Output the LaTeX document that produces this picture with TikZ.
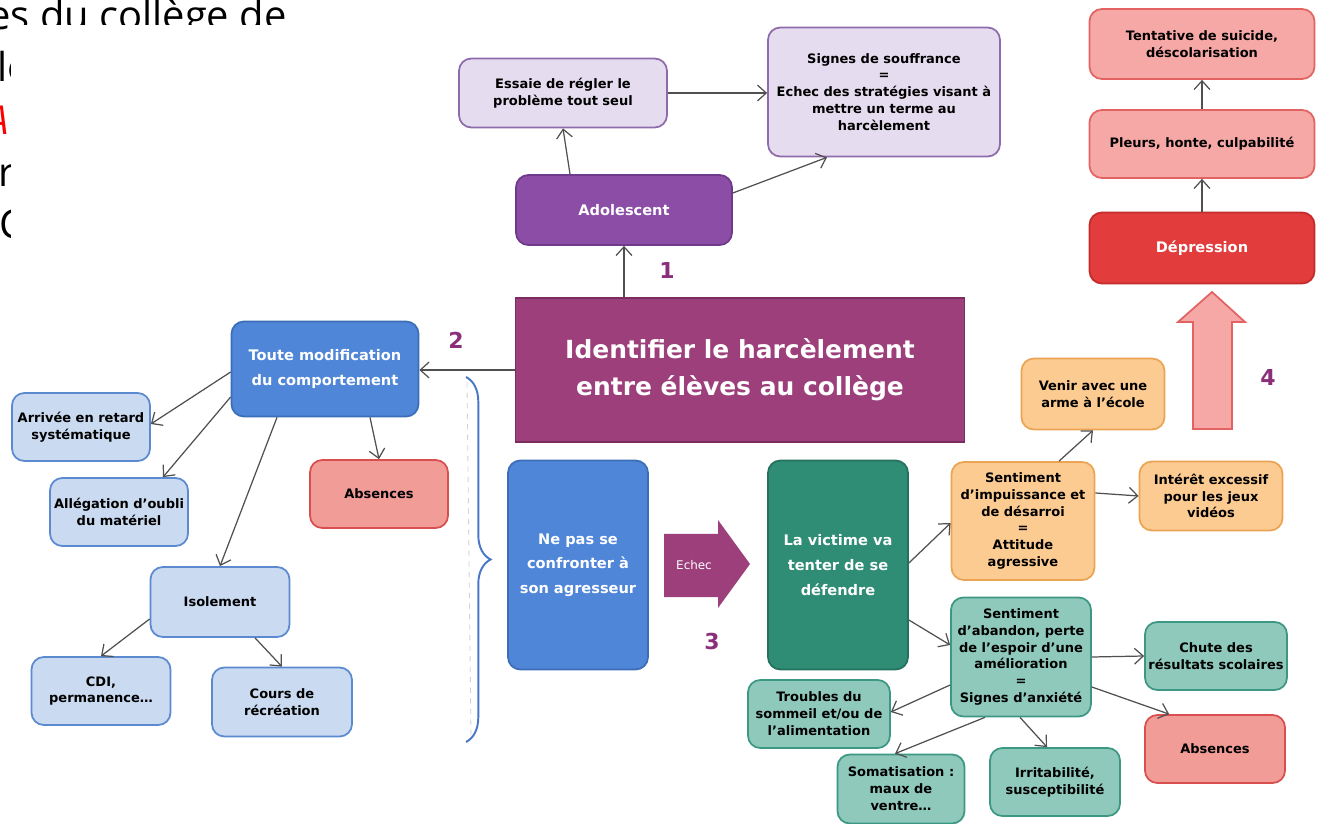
\documentclass[tikz,border=0pt]{standalone}
\usepackage{fontspec}
\setmainfont{DejaVu Sans}
\newfontfamily\fondpage{Open Sans}
\usetikzlibrary{arrows.meta,calc,decorations.pathreplacing}

\definecolor{mauveclair}{HTML}{E6DCEF}
\definecolor{mauvebord}{HTML}{8E6BAA}
\definecolor{mauvefonce}{HTML}{8B4DA6}
\definecolor{mauvefoncebord}{HTML}{6F3A8A}
\definecolor{prune}{HTML}{9C3F7B}
\definecolor{prunebord}{HTML}{7C2D60}
\definecolor{bleufonce}{HTML}{4F86D8}
\definecolor{bleufoncebord}{HTML}{3C6DB8}
\definecolor{bleuclair}{HTML}{C9DAF1}
\definecolor{bleuclairbord}{HTML}{5B8AD0}
\definecolor{saumon}{HTML}{F19C97}
\definecolor{saumonbord}{HTML}{D94E4E}
\definecolor{roseclair}{HTML}{F5A8A5}
\definecolor{rosebord}{HTML}{E36363}
\definecolor{rougevif}{HTML}{E23C3C}
\definecolor{rougevifbord}{HTML}{C42B2B}
\definecolor{vertfonce}{HTML}{2F8C75}
\definecolor{vertfoncebord}{HTML}{24725E}
\definecolor{vertclair}{HTML}{8FC9BC}
\definecolor{vertclairbord}{HTML}{3C9783}
\definecolor{orangeclair}{HTML}{FCCB91}
\definecolor{orangebord}{HTML}{EBA453}
\definecolor{numero}{HTML}{8B2F7B}
\definecolor{trait}{HTML}{505050}
\definecolor{accolade}{HTML}{4A78C8}

\begin{document}
\begin{tikzpicture}[x=0.02cm, y=-0.02cm,
    boite/.style={draw, rounded corners=7pt, line width=1pt, align=center, inner sep=1pt,
      minimum width=2.8cm, minimum height=1.36cm, font=\fontsize{7.4}{9.6}\selectfont\bfseries},
    grande/.style={boite, text=white, font=\fontsize{8.3}{14}\selectfont\bfseries},
    bmauve/.style={boite, fill=mauveclair, draw=mauvebord},
    bmauvefonce/.style={grande, fill=mauvefonce, draw=mauvefoncebord},
    brose/.style={boite, fill=roseclair, draw=rosebord},
    brouge/.style={grande, fill=rougevif, draw=rougevifbord},
    bbleu/.style={grande, fill=bleufonce, draw=bleufoncebord},
    bbleuclair/.style={boite, fill=bleuclair, draw=bleuclairbord},
    bsaumon/.style={boite, fill=saumon, draw=saumonbord},
    bvert/.style={grande, fill=vertfonce, draw=vertfoncebord},
    bvertclair/.style={boite, fill=vertclair, draw=vertclairbord},
    borange/.style={boite, fill=orangeclair, draw=orangebord},
    fleche/.style={draw=trait, line width=0.7pt, -{Straight Barb[length=5pt,width=9pt]}},
    num/.style={text=numero, font=\fontsize{12.5}{12.5}\selectfont\bfseries},
    fond/.style={anchor=base west, inner sep=0pt, font=\fondpage\fontsize{22.7}{22.7}\selectfont}]
  \useasboundingbox (0,0) rectangle (1320,824);
  \clip (0,0) rectangle (1320,824);
  % page derriere le schema
  \node[fond] (ligne1) at (-12,30) {es du collège de};
  \node[fond] (ligne2) at (-3,82) {lo};
  \node[fond, text=red, font=\fondpage\fontsize{22.7}{22.7}\selectfont\itshape] (ligne3) at (-14,135) {A};
  \node[fond] (ligne4) at (-2,187) {r};
  \node[fond] (ligne5) at (-1,239) {C};
  \fill[white] (11,25) rectangle (1320,824);

  % 1 : l'adolescent
  \node[bmauve, minimum width=4.16cm, minimum height=1.38cm] (essaie) at (563,93) {Essaie de régler le\\problème tout seul};
  \node[bmauve, minimum width=4.64cm, minimum height=2.58cm] (signes) at (884,92) {Signes de souffrance\\=\\Echec des stratégies visant à\\mettre un terme au\\harcèlement};
  \node[bmauvefonce, minimum width=4.32cm, minimum height=1.4cm] (adol) at (624,210) {Adolescent};
  \node[num] (un) at (667,270) {1};

  % 4 : la depression
  \node[brose, minimum width=4.5cm, minimum height=1.4cm] (tentative) at (1202,44) {Tentative de suicide,\\déscolarisation};
  \node[brose, minimum width=4.5cm, minimum height=1.36cm] (pleurs) at (1202,144) {Pleurs, honte, culpabilité};
  \node[brouge, minimum width=4.5cm, minimum height=1.42cm] (depression) at (1202,248) {Dépression};
  \node[num] (quatre) at (1268,377) {4};
  \draw[draw=rosebord, fill=roseclair, line width=1pt] (1193,429) -- (1193,322) -- (1178,322) -- (1212,292)
    -- (1245,322) -- (1232,322) -- (1232,429) -- cycle;

  % le centre
  \node[draw=prunebord, fill=prune, line width=1pt, text=white, align=center, minimum width=8.98cm, minimum height=2.88cm,
    font=\fontsize{14.2}{21}\selectfont\bfseries] (ident) at (740,370) {Identifier le harcèlement\\entre élèves au collège};

  % 2 : le comportement
  \node[bbleu, minimum width=3.74cm, minimum height=1.9cm] (toute) at (325,369) {Toute modification\\du comportement};
  \node[num] (deux) at (456,340) {2};
  \node[bbleuclair, minimum width=2.76cm, minimum height=1.36cm] (arrivee) at (81,427) {Arrivée en retard\\systématique};
  \node[bbleuclair, minimum width=2.76cm, minimum height=1.36cm] (allegation) at (119,512) {Allégation d'oubli\\du matériel};
  \node[bsaumon, minimum width=2.76cm, minimum height=1.36cm] (absencesg) at (379,494) {Absences};
  \node[bbleuclair, minimum width=2.78cm, minimum height=1.4cm] (isolement) at (220,602) {Isolement};
  \node[bbleuclair, minimum width=2.78cm, minimum height=1.36cm] (cdi) at (101,691) {CDI,\\permanence\ldots};
  \node[bbleuclair, minimum width=2.8cm, minimum height=1.38cm] (cours) at (282,702) {Cours de\\récréation};
  \draw[draw=accolade, line width=1.1pt, decorate, decoration={brace, amplitude=14pt}] (466,377) -- (466,742);
  \draw[gray!35, dashed, line width=0.5pt] (467,382) -- (471,738);

  % 3 : se defendre
  \node[bbleu, minimum width=2.8cm, minimum height=4.18cm] (confronter) at (578,565) {Ne pas se\\confronter à\\son agresseur};
  \fill[prune] (664,534) -- (718,534) -- (718,520) -- (750,564) -- (718,608) -- (718,597) -- (664,597) -- cycle;
  \node[text=white, font=\fontsize{6.8}{6.8}\selectfont] (echec) at (694,565) {Echec};
  \node[num] (trois) at (712,642) {3};
  \node[bvert, minimum width=2.8cm, minimum height=4.18cm] (victime) at (838,565) {La victime va\\tenter de se\\défendre};
  \node[borange, minimum width=2.86cm, minimum height=2.36cm] (impuissance) at (1023,521) {Sentiment\\d'impuissance et\\de désarroi\\=\\Attitude\\agressive};
  \node[borange, minimum width=2.86cm, minimum height=1.42cm] (arme) at (1093,394) {Venir avec une\\arme à l'école};
  \node[borange, minimum width=2.86cm, minimum height=1.38cm] (jeux) at (1211,496) {Intérêt excessif\\pour les jeux\\vidéos};
  \node[bvertclair, minimum width=2.8cm, minimum height=2.38cm] (abandon) at (1021,657) {Sentiment\\d'abandon, perte\\de l'espoir d'une\\amélioration\\=\\Signes d'anxiété};
  \node[bvertclair, minimum width=2.84cm, minimum height=1.36cm] (chute) at (1216,656) {Chute des\\résultats scolaires};
  \node[bsaumon, minimum width=2.8cm, minimum height=1.36cm] (absencesd) at (1215,749) {Absences};
  \node[bvertclair, minimum width=2.84cm, minimum height=1.36cm] (troubles) at (819,714) {Troubles du\\sommeil et/ou de\\l'alimentation};
  \node[bvertclair, minimum width=2.54cm, minimum height=1.38cm] (somatisation) at (901,789) {Somatisation :\\maux de\\ventre\ldots};
  \node[bvertclair, minimum width=2.6cm, minimum height=1.36cm] (irritabilite) at (1055,782) {Irritabilité,\\susceptibilité};

  % fleches
  \draw[fleche] ($(adol.north)+(-54,0)$) -- (essaie.south);
  \draw[fleche] ($(adol.east)+(0,-17)$) -- ($(signes.south)+(-57,0)$);
  \draw[fleche] (essaie.east) -- (signes.west |- essaie.east);
  \draw[fleche] (ident.north -| adol.south) -- (adol.south);
  \draw[fleche] (depression.north) -- (pleurs.south);
  \draw[fleche] (pleurs.north) -- (tentative.south);
  \draw[fleche] (ident.west) -- (ident.west -| toute.east);
  \draw[fleche] ($(toute.west)+(0,3)$) -- ($(arrivee.east)+(0,-3)$);
  \draw[fleche] ($(toute.west)+(0,28)$) -- ($(allegation.north)+(44,0)$);
  \draw[fleche] ($(toute.south)+(-48,0)$) -- (isolement.north);
  \draw[fleche] ($(toute.south)+(45,0)$) -- (absencesg.north);
  \draw[fleche] ($(isolement.west)+(0,17)$) -- (cdi.north);
  \draw[fleche] ($(isolement.south)+(35,0)$) -- (cours.north);
  \draw[fleche] ($(victime.east)+(0,-2)$) -- ($(impuissance.west)+(0,2)$);
  \draw[fleche] ($(impuissance.north)+(36,0)$) -- (arme.south);
  \draw[fleche] ($(impuissance.east)+(0,-28)$) -- (jeux.west);
  \draw[fleche] ($(victime.east)+(0,55)$) -- ($(abandon.west)+(0,-12)$);
  \draw[fleche] (abandon.east) -- (chute.west);
  \draw[fleche] ($(abandon.east)+(0,30)$) -- ($(absencesd.north west)+(25,0)$);
  \draw[fleche] ($(abandon.west)+(0,28)$) -- ($(troubles.east)+(0,-2)$);
  \draw[fleche] ($(abandon.south)+(-36,0)$) -- ($(somatisation.north)+(-6,0)$);
  \draw[fleche] ($(abandon.south)+(-1,0)$) -- ($(irritabilite.north)+(-8,0)$);
\end{tikzpicture}
\end{document}
